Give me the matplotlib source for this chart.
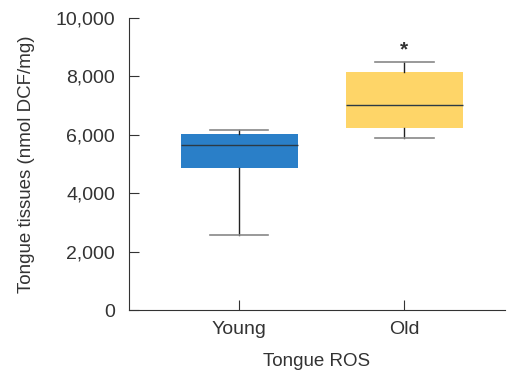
import matplotlib
matplotlib.use("Agg")
import matplotlib.pyplot as plt
from matplotlib.ticker import FuncFormatter

plt.rcParams.update({"font.family": "Liberation Sans", "font.size": 13.5,
                     "axes.spines.top": False, "axes.spines.right": False})

GROUPS = ["Young", "Old"]
WHISK_LO = [2570, 5880]
Q1 = [4870, 6230]
MEDIAN = [5660, 7010]
Q3 = [6030, 8150]
WHISK_HI = [6165, 8500]
COLORS = ["#2a7fc8", "#fed568"]
SIG = ["", "*"]

stats = [dict(label=g, whislo=lo, q1=a, med=m, q3=b, whishi=hi)
         for g, lo, a, m, b, hi in zip(GROUPS, WHISK_LO, Q1, MEDIAN, Q3, WHISK_HI)]

fig = plt.figure(figsize=(5.08, 3.76), dpi=100)
ax = fig.add_axes([0.254, 0.1755, 0.740, 0.7766])

bp = ax.bxp(stats, positions=range(len(GROUPS)), widths=0.71, patch_artist=True,
            showfliers=False,
            medianprops=dict(color="#2b3a45", lw=1.0),
            whiskerprops=dict(color="#222222", lw=1.0),
            capprops=dict(color="#888888", lw=1.2),
            boxprops=dict(lw=0))
for patch, c in zip(bp["boxes"], COLORS):
    patch.set_facecolor(c)
    patch.set_edgecolor(c)

for i, s in enumerate(SIG):
    if s:
        ax.text(i, WHISK_HI[i] + 80, s, ha="center", va="bottom", fontsize=15,
                fontweight="bold", color="#333333")

ax.set_xlim(-0.667, 1.61)
ax.set_ylim(0, 10000)
ax.set_yticks(range(0, 10001, 2000))
ax.yaxis.set_major_formatter(FuncFormatter(lambda v, p: f"{int(v):,}"))
ax.tick_params(direction="in", length=7, width=0.8, colors="#333333",
               labelcolor="#333333", labelsize=14)
ax.tick_params(axis="y", pad=10)
ax.tick_params(axis="x", pad=8)
for sp in ("left", "bottom"):
    ax.spines[sp].set_color("#333333")
    ax.spines[sp].set_linewidth(0.8)
ax.set_xlabel("Tongue ROS", color="#333333", labelpad=11)
ax.set_ylabel("Tongue tissues (nmol DCF/mg)", color="#333333", labelpad=15)

fig.savefig("out.png", dpi=100)
